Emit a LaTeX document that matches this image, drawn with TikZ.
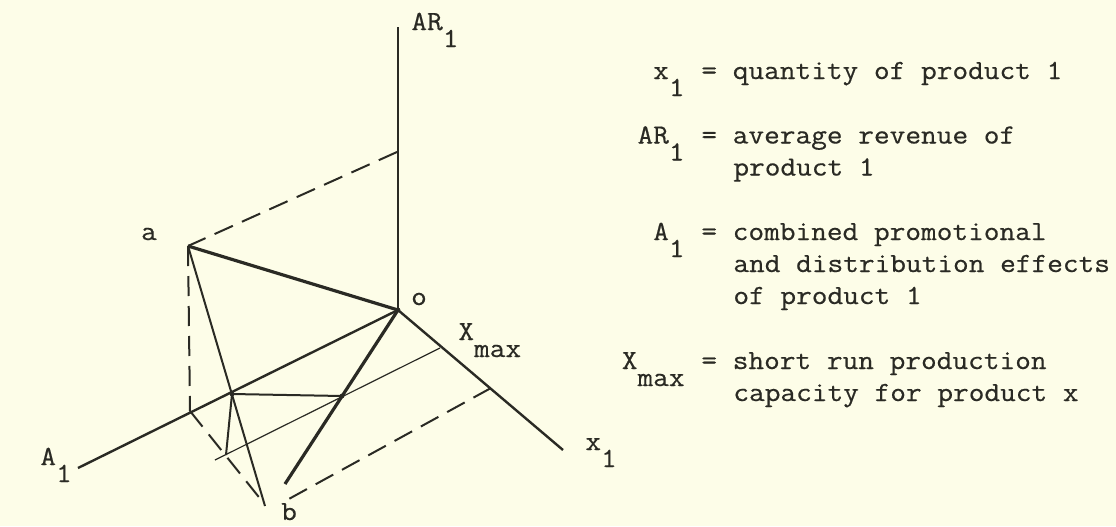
\documentclass[tikz,border=0pt]{standalone}
\usepackage{fontspec}
\newfontfamily\tw[FakeStretch=1.1,FakeBold=0.5]{Latin Modern Mono}
\newcommand\lowsub[1]{\raisebox{-8.5pt}{#1}}
\definecolor{bg}{RGB}{253,253,232}
\definecolor{ink}{RGB}{42,42,36}
\begin{document}
\begin{tikzpicture}[x=0.5pt,y=-0.5pt,
  axis/.style={draw=ink,line width=1.2pt},
  heavy/.style={draw=ink,line width=1.6pt},
  medium/.style={draw=ink,line width=1pt},
  thin/.style={draw=ink,line width=0.6pt},
  dashline/.style={draw=ink,line width=1pt,dash pattern=on 10pt off 5pt},
  lbl/.style={font=\tw\fontsize{13.85pt}{16pt}\selectfont,text=ink,inner sep=0pt},
  dot/.style={circle,fill=ink,inner sep=0pt,minimum size=2.4pt}]
\fill[bg] (0,0) rectangle (1116,526);
\useasboundingbox (0,0) rectangle (1116,526);
% points
\coordinate (o) at (398,310);
\coordinate (ARtop) at (398,27);
\coordinate (x1end) at (563,450);
\coordinate (A1end) at (78,468);
\coordinate (ARmark) at (397,152);
\coordinate (a) at (188,246);
\coordinate (D) at (190,411);
\coordinate (bA) at (265,506);
\coordinate (bD) at (262,501);
\coordinate (bO) at (285,484);
\coordinate (M1) at (440,348);
\coordinate (T) at (215,460);
\coordinate (M2) at (491,388);
\coordinate (bM) at (287,500);
\coordinate (P) at (232,394);
\coordinate (Q) at (342,396);
\coordinate (R) at (226,455);
% axes
\draw[axis] (o) -- (ARtop);
\draw[axis] (o) -- (x1end);
\draw[axis] (o) -- (A1end);
% construction
\draw[dashline] (ARmark) -- (a);
\draw[heavy] (a) -- (o);
\draw[dashline] (a) -- (D);
\draw[medium] (a) -- (bA);
\draw[dashline] (D) -- (bD);
\draw[heavy] (o) -- (bO);
\draw[thin] (M1) -- (T);
\draw[medium] (P) -- (Q);
\draw[medium] (P) -- (R);
\draw[dashline] (M2) -- (bM);
\node[dot] (odot) at (o) {};
\node[dot] (pdot) at (P) {};
\node[dot] (qdot) at (Q) {};
% diagram labels
\node[lbl,anchor=base west] (lAR) at (411,30) {AR\lowsub{1}};
\node[lbl,anchor=base] (la) at (149,240) {a};
\node[lbl,anchor=base] (lo) at (419,305) {o};
\node[lbl,anchor=base west] (lX) at (458,340) {X\lowsub{max}};
\node[lbl,anchor=base west] (lx) at (585,450) {x\lowsub{1}};
\node[lbl,anchor=base west] (lA) at (40,465) {A\lowsub{1}};
\node[lbl,anchor=base] (lb) at (289,520) {b};
% legend
\node[lbl,anchor=base east] (k1) at (685,79) {x\lowsub{1}};
\node[lbl,anchor=base west] (t1) at (701,79) {= quantity of product 1};
\node[lbl,anchor=base east] (k2) at (685,143.5) {AR\lowsub{1}};
\node[lbl,anchor=base west] (t2) at (701,143.5) {= average revenue of};
\node[lbl,anchor=base west] (t2b) at (733,175.5) {product 1};
\node[lbl,anchor=base east] (k3) at (685,240) {A\lowsub{1}};
\node[lbl,anchor=base west] (t3) at (701,240) {= combined promotional};
\node[lbl,anchor=base west] (t3b) at (733,272) {and distribution effects};
\node[lbl,anchor=base west] (t3c) at (733,304) {of product 1};
\node[lbl,anchor=base east] (k4) at (685,369) {X\lowsub{max}};
\node[lbl,anchor=base west] (t4) at (701,369) {= short run production};
\node[lbl,anchor=base west] (t4b) at (733,401) {capacity for product x};
\end{tikzpicture}
\end{document}
